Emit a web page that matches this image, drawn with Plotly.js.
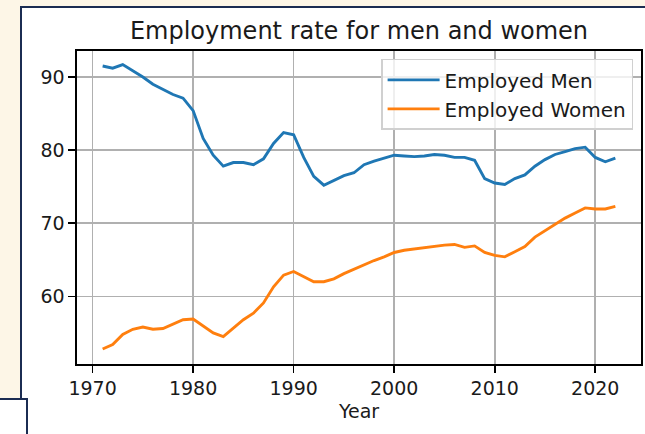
<!DOCTYPE html>
<html>
<head>
<meta charset="utf-8">
<script src="https://cdn.plot.ly/plotly-3.0.1.min.js"></script>
<style>
  html, body { margin: 0; padding: 0; }
  body { width: 645px; height: 434px; background: #fdf6e7; position: relative; overflow: hidden; }
  #frame { position: absolute; left: 20px; top: 6px; width: 640px; height: 440px; background: #ffffff;
           border-left: 2px solid #1b2c52; border-top: 2px solid #1b2c52; box-sizing: border-box; }
  #box2 { position: absolute; left: -2px; top: 398px; width: 30px; height: 50px; background: #ffffff;
          border-right: 2px solid #1b2c52; border-top: 2px solid #1b2c52; box-sizing: border-box; }
  #chart { position: absolute; left: 0; top: 0; width: 645px; height: 434px; }
</style>
</head>
<body>
<div id="frame"></div>
<div id="box2"></div>
<div id="chart"></div>
<script>
const years = [1971,1972,1973,1974,1975,1976,1977,1978,1979,1980,
               1981,1982,1983,1984,1985,1986,1987,1988,1989,1990,
               1991,1992,1993,1994,1995,1996,1997,1998,1999,2000,
               2001,2002,2003,2004,2005,2006,2007,2008,2009,2010,
               2011,2012,2013,2014,2015,2016,2017,2018,2019,2020,
               2021,2022];
const employedMen = [91.5,91.2,91.7,90.9,90.0,89.0,88.3,87.6,87.1,85.4,
                     81.6,79.3,77.8,78.3,78.3,78.0,78.8,80.9,82.4,82.1,
                     79.0,76.4,75.2,75.9,76.5,76.9,78.0,78.5,78.9,79.3,
                     79.2,79.1,79.2,79.4,79.3,79.0,79.0,78.6,76.1,75.5,
                     75.3,76.1,76.6,77.8,78.7,79.4,79.8,80.2,80.4,79.0,
                     78.4,78.9];
const employedWomen = [52.8,53.4,54.8,55.5,55.8,55.5,55.6,56.2,56.8,56.9,
                       55.9,55.0,54.5,55.7,56.8,57.7,59.1,61.3,62.9,63.4,
                       62.7,62.0,62.0,62.4,63.1,63.7,64.4,64.9,65.4,66.0,
                       66.3,66.5,66.7,66.9,67.0,67.1,66.7,66.9,66.0,65.6,
                       65.4,66.1,66.8,68.1,69.0,69.8,70.7,71.4,72.1,71.95,
                       71.95,72.3];
const seriesNames = ["Employed Men", "Employed Women"];
const xTicks = [1970,1980,1990,2000,2010,2020];
const yTicks = [60,70,80,90];
const titleText = "Employment rate for men and women";
const xLabel = "Year";

const FONT = "DejaVu Sans, sans-serif";
const TXT = "#1a1a1a";

const traces = [
  {x: years, y: employedMen, name: seriesNames[0], type: "scatter", mode: "lines",
   line: {color: "#1f77b4", width: 2.9}},
  {x: years, y: employedWomen, name: seriesNames[1], type: "scatter", mode: "lines",
   line: {color: "#ff7f0e", width: 2.9}}
];

const axisCommon = {
  showline: true, linecolor: "#000", linewidth: 1.6, mirror: true,
  ticks: "outside", ticklen: 7, tickwidth: 1.6, tickcolor: "#000",
  showgrid: true, gridcolor: "#b0b0b0", gridwidth: 1.6,
  zeroline: false, tickfont: {family: FONT, size: 19, color: TXT}
};

const layout = {
  width: 645, height: 434,
  margin: {l: 77, r: 4, t: 51, b: 70, pad: 0},
  paper_bgcolor: "rgba(0,0,0,0)", plot_bgcolor: "#ffffff",
  font: {family: FONT, color: TXT},
  title: {text: titleText, font: {family: FONT, size: 24, color: TXT},
          x: 0.5, xref: "paper", xanchor: "center", y: 1 - 31/434, yref: "container", yanchor: "middle"},
  xaxis: Object.assign({}, axisCommon, {
    range: [1968.45, 2024.55], tickvals: xTicks, ticktext: xTicks.map(String),
    title: {text: xLabel, font: {family: FONT, size: 19, color: TXT}, standoff: 6}
  }),
  yaxis: Object.assign({}, axisCommon, {
    range: [50.75, 93.55], tickvals: yTicks, ticktext: yTicks.map(String)
  }),
  showlegend: true,
  legend: {x: 0.986, xanchor: "right", y: 0.975, yanchor: "top",
           bgcolor: "rgba(255,255,255,0.8)", bordercolor: "#d0d0d0", borderwidth: 1.5,
           font: {family: FONT, size: 20, color: TXT}, itemwidth: 52,
           traceorder: "normal"}
};

Plotly.newPlot("chart", traces, layout, {displayModeBar: false, staticPlot: true});
</script>
</body>
</html>
